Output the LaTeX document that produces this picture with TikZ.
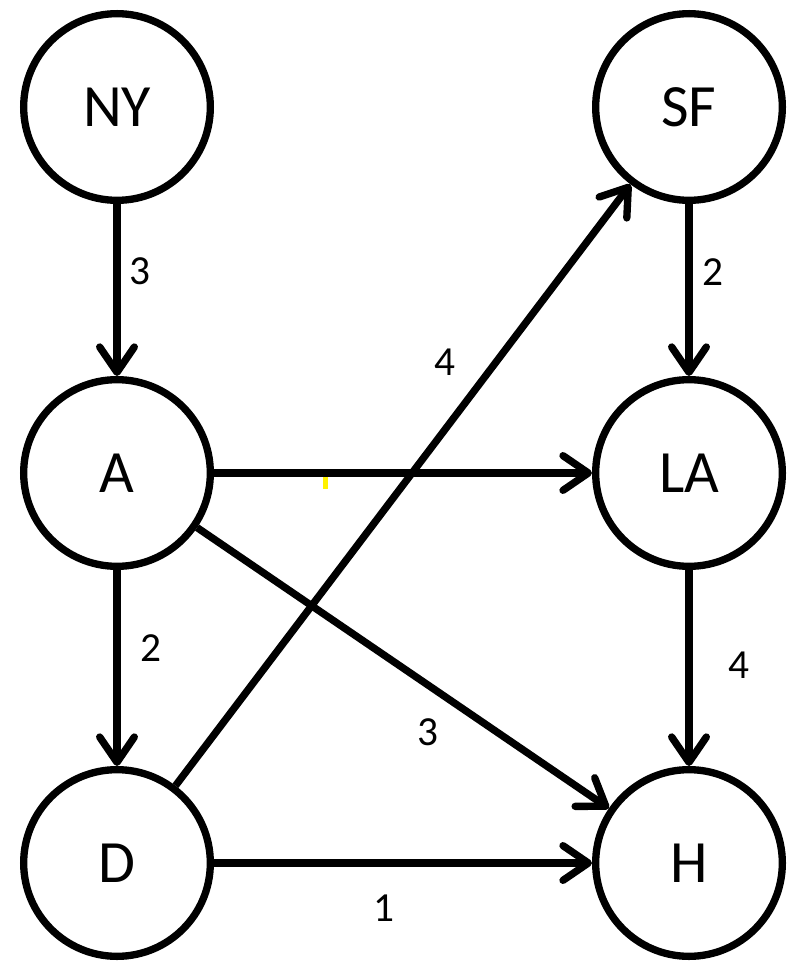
\documentclass[tikz,border=0pt]{standalone}
\usepackage{fontspec}
\setmainfont{Carlito}
\usetikzlibrary{arrows.meta}
\tikzset{city/.style={draw, circle, line width=5.5pt, minimum size=140pt, inner sep=0pt, font=\fontsize{45}{54}\selectfont},
  road/.style={line width=5.5pt, -{Straight Barb[length=19pt,width=26pt,round]}},
  cost/.style={inner sep=0pt, font=\fontsize{31}{37}\selectfont}}

\begin{document}
\begin{tikzpicture}[x=0.75pt,y=-0.75pt]
  \useasboundingbox (0,0) rectangle (808,973);
  \node[city] (ny) at (117,107) {NY};
  \node[city] (sf) at (689,107) {SF};
  \node[city] (a)  at (117,473) {A};
  \node[city] (la) at (689,473) {LA};
  \node[city] (d)  at (117,863) {D};
  \node[city] (h)  at (689,863) {H};
  \draw[road] (ny) -- (a);
  \draw[road] (sf) -- (la);
  \draw[road] (a) -- (la);
  \draw[road] (a) -- (d);
  \draw[road] (a) -- (h);
  \draw[road] (la) -- (h);
  \draw[road] (d) -- (sf);
  \draw[road] (d) -- (h);
  \node[cost] (nya) at (140,271) {3};
  \node[cost] (sfla) at (713,272) {2};
  \node[cost] (dsf) at (445,362) {4};
  \node[cost] (ad) at (151,648) {2};
  \node[cost] (lah) at (739,665) {4};
  \node[cost] (ah) at (428,732) {3};
  \node[cost] (dh) at (384,908) {1};
  \fill[yellow] (323,477) rectangle (328,489);
\end{tikzpicture}
\end{document}
